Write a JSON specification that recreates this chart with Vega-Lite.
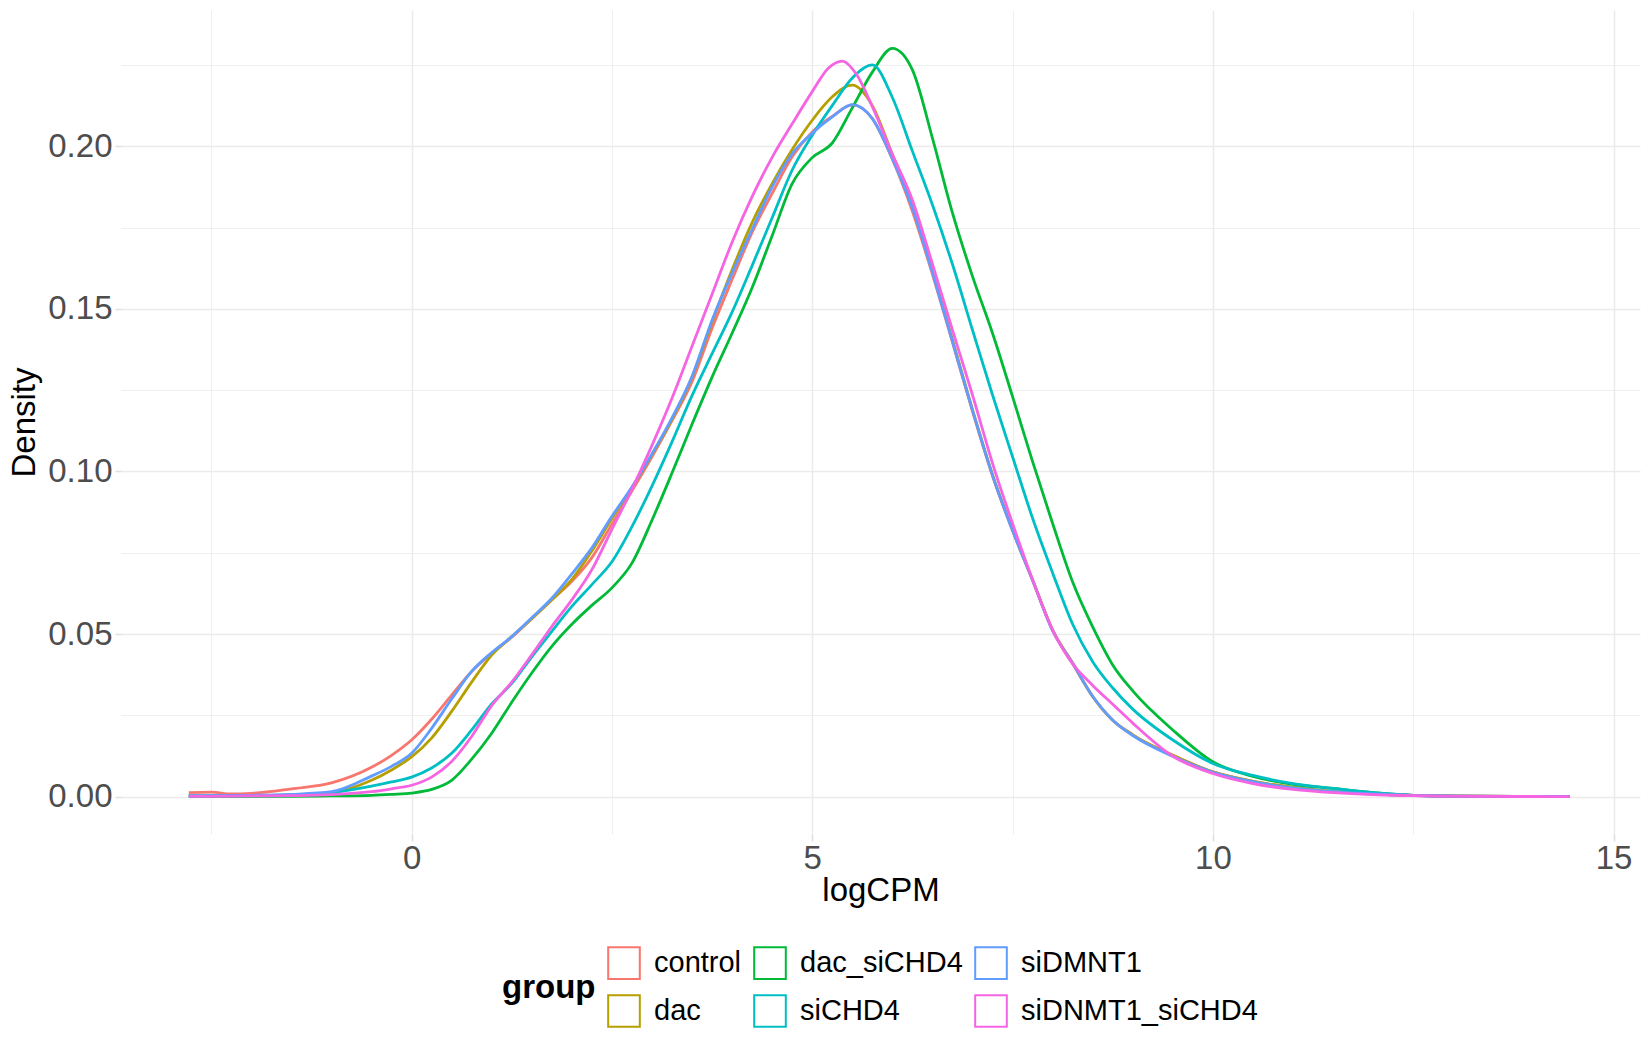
{
  "$schema": "https://vega.github.io/schema/vega-lite/v6.json",
  "description": "Density of logCPM by group, ggplot-style minimal theme.",
  "width": 1519,
  "height": 824,
  "autosize": {"type": "none"},
  "padding": {"left": 121, "top": 10, "right": 10, "bottom": 216},
  "background": "white",
  "config": {
    "view": {"stroke": null},
    "font": "Liberation Sans"
  },
  "datasets": {
    "dens": [
      {"g":"control","x":-2.78,"d":0.0012},{"g":"control","x":-2.5,"d":0.0014},{"g":"control","x":-2.25,"d":0.0008},{"g":"control","x":-2,"d":0.0010},{"g":"control","x":-1.5,"d":0.0024},{"g":"control","x":-1,"d":0.0042},{"g":"control","x":-0.5,"d":0.0090},{"g":"control","x":-0.25,"d":0.0127},{"g":"control","x":0,"d":0.0174},{"g":"control","x":0.25,"d":0.0238},{"g":"control","x":0.5,"d":0.0312},{"g":"control","x":0.75,"d":0.0385},{"g":"control","x":1,"d":0.0440},{"g":"control","x":1.25,"d":0.0490},{"g":"control","x":1.5,"d":0.0547},{"g":"control","x":1.75,"d":0.0605},{"g":"control","x":2,"d":0.0662},{"g":"control","x":2.25,"d":0.0735},{"g":"control","x":2.5,"d":0.0838},{"g":"control","x":2.75,"d":0.0940},{"g":"control","x":3,"d":0.1045},{"g":"control","x":3.25,"d":0.1156},{"g":"control","x":3.5,"d":0.1276},{"g":"control","x":3.75,"d":0.1440},{"g":"control","x":4,"d":0.1590},{"g":"control","x":4.25,"d":0.1735},{"g":"control","x":4.5,"d":0.1855},{"g":"control","x":4.75,"d":0.1968},{"g":"control","x":5,"d":0.2044},{"g":"control","x":5.25,"d":0.2092},{"g":"control","x":5.5,"d":0.2127},{"g":"control","x":5.75,"d":0.2085},{"g":"control","x":6,"d":0.1960},{"g":"control","x":6.25,"d":0.1800},{"g":"control","x":6.5,"d":0.1606},{"g":"control","x":6.75,"d":0.1397},{"g":"control","x":7,"d":0.1185},{"g":"control","x":7.25,"d":0.0986},{"g":"control","x":7.5,"d":0.0818},{"g":"control","x":7.75,"d":0.0666},{"g":"control","x":8,"d":0.0512},{"g":"control","x":8.25,"d":0.0410},{"g":"control","x":8.5,"d":0.0308},{"g":"control","x":8.75,"d":0.0235},{"g":"control","x":9,"d":0.0190},{"g":"control","x":9.5,"d":0.0127},{"g":"control","x":10,"d":0.0076},{"g":"control","x":10.5,"d":0.0047},{"g":"control","x":11,"d":0.0028},{"g":"control","x":11.5,"d":0.0015},{"g":"control","x":12,"d":0.0008},{"g":"control","x":12.5,"d":0.0004},{"g":"control","x":13,"d":0.0002},{"g":"control","x":14,"d":0.00005},{"g":"control","x":14.45,"d":0},

      {"g":"dac","x":-2.78,"d":0.0002},{"g":"dac","x":-2.5,"d":0.0002},{"g":"dac","x":-2,"d":0.0003},{"g":"dac","x":-1.5,"d":0.0005},{"g":"dac","x":-1,"d":0.0012},{"g":"dac","x":-0.5,"d":0.0050},{"g":"dac","x":-0.25,"d":0.0082},{"g":"dac","x":0,"d":0.0122},{"g":"dac","x":0.25,"d":0.0180},{"g":"dac","x":0.5,"d":0.0262},{"g":"dac","x":0.75,"d":0.0352},{"g":"dac","x":1,"d":0.0435},{"g":"dac","x":1.25,"d":0.0492},{"g":"dac","x":1.5,"d":0.0547},{"g":"dac","x":1.75,"d":0.0605},{"g":"dac","x":2,"d":0.0668},{"g":"dac","x":2.25,"d":0.0755},{"g":"dac","x":2.5,"d":0.0855},{"g":"dac","x":2.75,"d":0.0950},{"g":"dac","x":3,"d":0.1052},{"g":"dac","x":3.25,"d":0.1160},{"g":"dac","x":3.5,"d":0.1290},{"g":"dac","x":3.75,"d":0.1460},{"g":"dac","x":4,"d":0.1620},{"g":"dac","x":4.25,"d":0.1765},{"g":"dac","x":4.5,"d":0.1885},{"g":"dac","x":4.75,"d":0.1990},{"g":"dac","x":5,"d":0.2080},{"g":"dac","x":5.25,"d":0.2152},{"g":"dac","x":5.5,"d":0.2188},{"g":"dac","x":5.75,"d":0.2125},{"g":"dac","x":6,"d":0.1975},{"g":"dac","x":6.25,"d":0.1820},{"g":"dac","x":6.5,"d":0.1620},{"g":"dac","x":6.75,"d":0.1405},{"g":"dac","x":7,"d":0.1190},{"g":"dac","x":7.25,"d":0.0990},{"g":"dac","x":7.5,"d":0.0820},{"g":"dac","x":7.75,"d":0.0666},{"g":"dac","x":8,"d":0.0512},{"g":"dac","x":8.25,"d":0.0410},{"g":"dac","x":8.5,"d":0.0308},{"g":"dac","x":8.75,"d":0.0235},{"g":"dac","x":9,"d":0.0190},{"g":"dac","x":9.5,"d":0.0127},{"g":"dac","x":10,"d":0.0076},{"g":"dac","x":10.5,"d":0.0047},{"g":"dac","x":11,"d":0.0028},{"g":"dac","x":11.5,"d":0.0015},{"g":"dac","x":12,"d":0.0008},{"g":"dac","x":12.5,"d":0.0004},{"g":"dac","x":13,"d":0.0002},{"g":"dac","x":14,"d":0.00005},{"g":"dac","x":14.45,"d":0},

      {"g":"dac_siCHD4","x":-2.78,"d":0.0001},{"g":"dac_siCHD4","x":-2.5,"d":0.0001},{"g":"dac_siCHD4","x":-2,"d":0.0001},{"g":"dac_siCHD4","x":-1.5,"d":0.0001},{"g":"dac_siCHD4","x":-1,"d":0.0002},{"g":"dac_siCHD4","x":-0.5,"d":0.0004},{"g":"dac_siCHD4","x":-0.25,"d":0.0007},{"g":"dac_siCHD4","x":0,"d":0.0011},{"g":"dac_siCHD4","x":0.25,"d":0.0022},{"g":"dac_siCHD4","x":0.5,"d":0.0050},{"g":"dac_siCHD4","x":0.75,"d":0.0115},{"g":"dac_siCHD4","x":1,"d":0.0195},{"g":"dac_siCHD4","x":1.25,"d":0.0290},{"g":"dac_siCHD4","x":1.5,"d":0.0380},{"g":"dac_siCHD4","x":1.75,"d":0.0462},{"g":"dac_siCHD4","x":2,"d":0.0530},{"g":"dac_siCHD4","x":2.25,"d":0.0588},{"g":"dac_siCHD4","x":2.5,"d":0.0642},{"g":"dac_siCHD4","x":2.75,"d":0.0718},{"g":"dac_siCHD4","x":3,"d":0.0850},{"g":"dac_siCHD4","x":3.25,"d":0.0995},{"g":"dac_siCHD4","x":3.5,"d":0.1145},{"g":"dac_siCHD4","x":3.75,"d":0.1290},{"g":"dac_siCHD4","x":4,"d":0.1425},{"g":"dac_siCHD4","x":4.25,"d":0.1565},{"g":"dac_siCHD4","x":4.5,"d":0.1725},{"g":"dac_siCHD4","x":4.75,"d":0.1885},{"g":"dac_siCHD4","x":5,"d":0.1965},{"g":"dac_siCHD4","x":5.25,"d":0.2010},{"g":"dac_siCHD4","x":5.5,"d":0.2118},{"g":"dac_siCHD4","x":5.75,"d":0.2228},{"g":"dac_siCHD4","x":6,"d":0.2301},{"g":"dac_siCHD4","x":6.25,"d":0.2235},{"g":"dac_siCHD4","x":6.5,"d":0.2025},{"g":"dac_siCHD4","x":6.75,"d":0.1795},{"g":"dac_siCHD4","x":7,"d":0.1600},{"g":"dac_siCHD4","x":7.25,"d":0.1425},{"g":"dac_siCHD4","x":7.5,"d":0.1230},{"g":"dac_siCHD4","x":7.75,"d":0.1030},{"g":"dac_siCHD4","x":8,"d":0.0840},{"g":"dac_siCHD4","x":8.25,"d":0.0660},{"g":"dac_siCHD4","x":8.5,"d":0.0522},{"g":"dac_siCHD4","x":8.75,"d":0.0405},{"g":"dac_siCHD4","x":9,"d":0.0325},{"g":"dac_siCHD4","x":9.5,"d":0.0205},{"g":"dac_siCHD4","x":10,"d":0.0107},{"g":"dac_siCHD4","x":10.5,"d":0.0062},{"g":"dac_siCHD4","x":11,"d":0.0038},{"g":"dac_siCHD4","x":11.5,"d":0.0025},{"g":"dac_siCHD4","x":12,"d":0.0012},{"g":"dac_siCHD4","x":12.5,"d":0.0004},{"g":"dac_siCHD4","x":13,"d":0.0001},{"g":"dac_siCHD4","x":14,"d":0.00003},{"g":"dac_siCHD4","x":14.45,"d":0},

      {"g":"siCHD4","x":-2.78,"d":0.0002},{"g":"siCHD4","x":-2.5,"d":0.0002},{"g":"siCHD4","x":-2,"d":0.0003},{"g":"siCHD4","x":-1.5,"d":0.0005},{"g":"siCHD4","x":-1,"d":0.0012},{"g":"siCHD4","x":-0.5,"d":0.0032},{"g":"siCHD4","x":-0.25,"d":0.0045},{"g":"siCHD4","x":0,"d":0.0060},{"g":"siCHD4","x":0.25,"d":0.0088},{"g":"siCHD4","x":0.5,"d":0.0133},{"g":"siCHD4","x":0.75,"d":0.0205},{"g":"siCHD4","x":1,"d":0.0285},{"g":"siCHD4","x":1.25,"d":0.0348},{"g":"siCHD4","x":1.5,"d":0.0430},{"g":"siCHD4","x":1.75,"d":0.0508},{"g":"siCHD4","x":2,"d":0.0585},{"g":"siCHD4","x":2.25,"d":0.0652},{"g":"siCHD4","x":2.5,"d":0.0722},{"g":"siCHD4","x":2.75,"d":0.0830},{"g":"siCHD4","x":3,"d":0.0955},{"g":"siCHD4","x":3.25,"d":0.1091},{"g":"siCHD4","x":3.5,"d":0.1233},{"g":"siCHD4","x":3.75,"d":0.1362},{"g":"siCHD4","x":4,"d":0.1490},{"g":"siCHD4","x":4.25,"d":0.1633},{"g":"siCHD4","x":4.5,"d":0.1780},{"g":"siCHD4","x":4.75,"d":0.1927},{"g":"siCHD4","x":5,"d":0.2034},{"g":"siCHD4","x":5.25,"d":0.2125},{"g":"siCHD4","x":5.5,"d":0.2210},{"g":"siCHD4","x":5.75,"d":0.2250},{"g":"siCHD4","x":6,"d":0.2150},{"g":"siCHD4","x":6.25,"d":0.1985},{"g":"siCHD4","x":6.5,"d":0.1820},{"g":"siCHD4","x":6.75,"d":0.1637},{"g":"siCHD4","x":7,"d":0.1435},{"g":"siCHD4","x":7.25,"d":0.1235},{"g":"siCHD4","x":7.5,"d":0.1045},{"g":"siCHD4","x":7.75,"d":0.0856},{"g":"siCHD4","x":8,"d":0.0688},{"g":"siCHD4","x":8.25,"d":0.0530},{"g":"siCHD4","x":8.5,"d":0.0415},{"g":"siCHD4","x":8.75,"d":0.0334},{"g":"siCHD4","x":9,"d":0.0269},{"g":"siCHD4","x":9.5,"d":0.0174},{"g":"siCHD4","x":10,"d":0.0102},{"g":"siCHD4","x":10.5,"d":0.0065},{"g":"siCHD4","x":11,"d":0.0040},{"g":"siCHD4","x":11.5,"d":0.0025},{"g":"siCHD4","x":12,"d":0.0012},{"g":"siCHD4","x":12.5,"d":0.0004},{"g":"siCHD4","x":13,"d":0.0001},{"g":"siCHD4","x":14,"d":0.00003},{"g":"siCHD4","x":14.45,"d":0},

      {"g":"siDMNT1","x":-2.78,"d":0.0003},{"g":"siDMNT1","x":-2.5,"d":0.0003},{"g":"siDMNT1","x":-2,"d":0.0004},{"g":"siDMNT1","x":-1.5,"d":0.0007},{"g":"siDMNT1","x":-1,"d":0.0015},{"g":"siDMNT1","x":-0.5,"d":0.0063},{"g":"siDMNT1","x":-0.25,"d":0.0093},{"g":"siDMNT1","x":0,"d":0.0133},{"g":"siDMNT1","x":0.25,"d":0.0210},{"g":"siDMNT1","x":0.5,"d":0.0300},{"g":"siDMNT1","x":0.75,"d":0.0385},{"g":"siDMNT1","x":1,"d":0.0443},{"g":"siDMNT1","x":1.25,"d":0.0492},{"g":"siDMNT1","x":1.5,"d":0.0550},{"g":"siDMNT1","x":1.75,"d":0.0610},{"g":"siDMNT1","x":2,"d":0.0685},{"g":"siDMNT1","x":2.25,"d":0.0765},{"g":"siDMNT1","x":2.5,"d":0.0862},{"g":"siDMNT1","x":2.75,"d":0.0952},{"g":"siDMNT1","x":3,"d":0.1054},{"g":"siDMNT1","x":3.25,"d":0.1165},{"g":"siDMNT1","x":3.5,"d":0.1292},{"g":"siDMNT1","x":3.75,"d":0.1465},{"g":"siDMNT1","x":4,"d":0.1610},{"g":"siDMNT1","x":4.25,"d":0.1744},{"g":"siDMNT1","x":4.5,"d":0.1875},{"g":"siDMNT1","x":4.75,"d":0.1977},{"g":"siDMNT1","x":5,"d":0.2040},{"g":"siDMNT1","x":5.25,"d":0.2090},{"g":"siDMNT1","x":5.5,"d":0.2128},{"g":"siDMNT1","x":5.75,"d":0.2085},{"g":"siDMNT1","x":6,"d":0.1962},{"g":"siDMNT1","x":6.25,"d":0.1810},{"g":"siDMNT1","x":6.5,"d":0.1612},{"g":"siDMNT1","x":6.75,"d":0.1400},{"g":"siDMNT1","x":7,"d":0.1188},{"g":"siDMNT1","x":7.25,"d":0.0988},{"g":"siDMNT1","x":7.5,"d":0.0818},{"g":"siDMNT1","x":7.75,"d":0.0665},{"g":"siDMNT1","x":8,"d":0.0510},{"g":"siDMNT1","x":8.25,"d":0.0410},{"g":"siDMNT1","x":8.5,"d":0.0308},{"g":"siDMNT1","x":8.75,"d":0.0235},{"g":"siDMNT1","x":9,"d":0.0188},{"g":"siDMNT1","x":9.5,"d":0.0124},{"g":"siDMNT1","x":10,"d":0.0075},{"g":"siDMNT1","x":10.5,"d":0.0046},{"g":"siDMNT1","x":11,"d":0.0027},{"g":"siDMNT1","x":11.5,"d":0.0015},{"g":"siDMNT1","x":12,"d":0.0008},{"g":"siDMNT1","x":12.5,"d":0.0004},{"g":"siDMNT1","x":13,"d":0.0002},{"g":"siDMNT1","x":14,"d":0.00005},{"g":"siDMNT1","x":14.45,"d":0},

      {"g":"siDNMT1_siCHD4","x":-2.78,"d":0.0001},{"g":"siDNMT1_siCHD4","x":-2.5,"d":0.0001},{"g":"siDNMT1_siCHD4","x":-2,"d":0.0002},{"g":"siDNMT1_siCHD4","x":-1.5,"d":0.0003},{"g":"siDNMT1_siCHD4","x":-1,"d":0.0006},{"g":"siDNMT1_siCHD4","x":-0.5,"d":0.0015},{"g":"siDNMT1_siCHD4","x":-0.25,"d":0.0024},{"g":"siDNMT1_siCHD4","x":0,"d":0.0035},{"g":"siDNMT1_siCHD4","x":0.25,"d":0.0060},{"g":"siDNMT1_siCHD4","x":0.5,"d":0.0108},{"g":"siDNMT1_siCHD4","x":0.75,"d":0.0185},{"g":"siDNMT1_siCHD4","x":1,"d":0.0280},{"g":"siDNMT1_siCHD4","x":1.25,"d":0.0352},{"g":"siDNMT1_siCHD4","x":1.5,"d":0.0436},{"g":"siDNMT1_siCHD4","x":1.75,"d":0.0523},{"g":"siDNMT1_siCHD4","x":2,"d":0.0605},{"g":"siDNMT1_siCHD4","x":2.25,"d":0.0698},{"g":"siDNMT1_siCHD4","x":2.5,"d":0.0822},{"g":"siDNMT1_siCHD4","x":2.75,"d":0.0945},{"g":"siDNMT1_siCHD4","x":3,"d":0.1080},{"g":"siDNMT1_siCHD4","x":3.25,"d":0.1225},{"g":"siDNMT1_siCHD4","x":3.5,"d":0.1385},{"g":"siDNMT1_siCHD4","x":3.75,"d":0.1545},{"g":"siDNMT1_siCHD4","x":4,"d":0.1705},{"g":"siDNMT1_siCHD4","x":4.25,"d":0.1845},{"g":"siDNMT1_siCHD4","x":4.5,"d":0.1966},{"g":"siDNMT1_siCHD4","x":4.75,"d":0.2069},{"g":"siDNMT1_siCHD4","x":5,"d":0.2168},{"g":"siDNMT1_siCHD4","x":5.2,"d":0.2240},{"g":"siDNMT1_siCHD4","x":5.375,"d":0.2262},{"g":"siDNMT1_siCHD4","x":5.55,"d":0.2222},{"g":"siDNMT1_siCHD4","x":5.75,"d":0.2122},{"g":"siDNMT1_siCHD4","x":6,"d":0.1975},{"g":"siDNMT1_siCHD4","x":6.25,"d":0.1835},{"g":"siDNMT1_siCHD4","x":6.5,"d":0.1638},{"g":"siDNMT1_siCHD4","x":6.75,"d":0.1435},{"g":"siDNMT1_siCHD4","x":7,"d":0.1235},{"g":"siDNMT1_siCHD4","x":7.25,"d":0.1025},{"g":"siDNMT1_siCHD4","x":7.5,"d":0.0840},{"g":"siDNMT1_siCHD4","x":7.75,"d":0.0667},{"g":"siDNMT1_siCHD4","x":8,"d":0.0512},{"g":"siDNMT1_siCHD4","x":8.25,"d":0.0408},{"g":"siDNMT1_siCHD4","x":8.5,"d":0.0342},{"g":"siDNMT1_siCHD4","x":8.75,"d":0.0284},{"g":"siDNMT1_siCHD4","x":9,"d":0.0226},{"g":"siDNMT1_siCHD4","x":9.5,"d":0.0124},{"g":"siDNMT1_siCHD4","x":10,"d":0.0071},{"g":"siDNMT1_siCHD4","x":10.5,"d":0.0040},{"g":"siDNMT1_siCHD4","x":11,"d":0.0022},{"g":"siDNMT1_siCHD4","x":11.5,"d":0.0012},{"g":"siDNMT1_siCHD4","x":12,"d":0.0006},{"g":"siDNMT1_siCHD4","x":12.5,"d":0.0003},{"g":"siDNMT1_siCHD4","x":13,"d":0.0001},{"g":"siDNMT1_siCHD4","x":14,"d":0.00003},{"g":"siDNMT1_siCHD4","x":14.45,"d":0}
    ]
  },
  "data": {"name": "dens"},
  "mark": {"type": "line", "strokeWidth": 2.8, "interpolate": "monotone", "clip": true},
  "encoding": {
    "x": {
      "field": "x",
      "type": "quantitative",
      "scale": {"domain": [-3.626, 15.33], "nice": false, "zero": false},
      "axis": {
        "title": "logCPM",
        "titleFont": "Liberation Sans",
        "titleFontSize": 33,
        "titleFontWeight": "normal",
        "titleColor": "black",
        "titlePadding": -1,
        "values": [-2.5, 0, 2.5, 5, 7.5, 10, 12.5, 15],
        "labelExpr": "datum.value % 5 === 0 ? format(datum.value, 'd') : ''",
        "labelFont": "Liberation Sans",
        "labelFontSize": 33,
        "labelColor": "#4D4D4D",
        "labelPadding": 1,
        "labelFlush": false,
        "labelOverlap": false,
        "domain": false,
        "tickSize": 7,
        "tickColor": "#DEDEDE",
        "tickWidth": 1.5,
        "tickOpacity": {"condition": {"test": "datum.value % 5 === 0", "value": 1}, "value": 0},
        "gridColor": "#EBEBEB",
        "gridWidth": {"condition": {"test": "datum.value % 5 === 0", "value": 1.5}, "value": 0.8}
      }
    },
    "y": {
      "field": "d",
      "type": "quantitative",
      "scale": {"domain": [-0.0115, 0.2419], "nice": false, "zero": false},
      "axis": {
        "title": "Density",
        "titleFont": "Liberation Sans",
        "titleFontSize": 33,
        "titleFontWeight": "normal",
        "titleColor": "black",
        "titlePadding": 6,
        "values": [0, 0.025, 0.05, 0.075, 0.1, 0.125, 0.15, 0.175, 0.2, 0.225],
        "labelExpr": "round(datum.value * 1000) % 50 === 0 ? format(datum.value, '.2f') : ''",
        "labelFont": "Liberation Sans",
        "labelFontSize": 33,
        "labelColor": "#4D4D4D",
        "labelPadding": 3,
        "labelOverlap": false,
        "domain": false,
        "tickSize": 6,
        "tickColor": "#DEDEDE",
        "tickWidth": 1.5,
        "tickOpacity": {"condition": {"test": "round(datum.value * 1000) % 50 === 0", "value": 1}, "value": 0},
        "gridColor": "#EBEBEB",
        "gridWidth": {"condition": {"test": "round(datum.value * 1000) % 50 === 0", "value": 1.5}, "value": 0.8}
      }
    },
    "color": {
      "field": "g",
      "type": "nominal",
      "scale": {
        "domain": ["control", "dac_siCHD4", "siDMNT1", "dac", "siCHD4", "siDNMT1_siCHD4"],
        "range": ["#F8766D", "#00BA38", "#619CFF", "#B79F00", "#00BFC4", "#F564E3"]
      },
      "legend": {
        "title": "group",
        "orient": "none",
        "legendX": 381,
        "legendY": 936,
        "direction": "horizontal",
        "columns": 3,
        "titleOrient": "left",
        "titleAnchor": "middle",
        "titleBaseline": "middle",
        "titleFont": "Liberation Sans",
        "titleFontSize": 33,
        "titleFontWeight": "bold",
        "titleColor": "black",
        "titlePadding": 11,
        "labelFont": "Liberation Sans",
        "labelFontSize": 29,
        "labelColor": "black",
        "labelOffset": 13,
        "labelLimit": 0,
        "symbolType": "square",
        "symbolSize": 1000,
        "symbolStrokeWidth": 2,
        "symbolFillColor": "white",
        "columnPadding": 8,
        "rowPadding": 8
      }
    }
  }
}
